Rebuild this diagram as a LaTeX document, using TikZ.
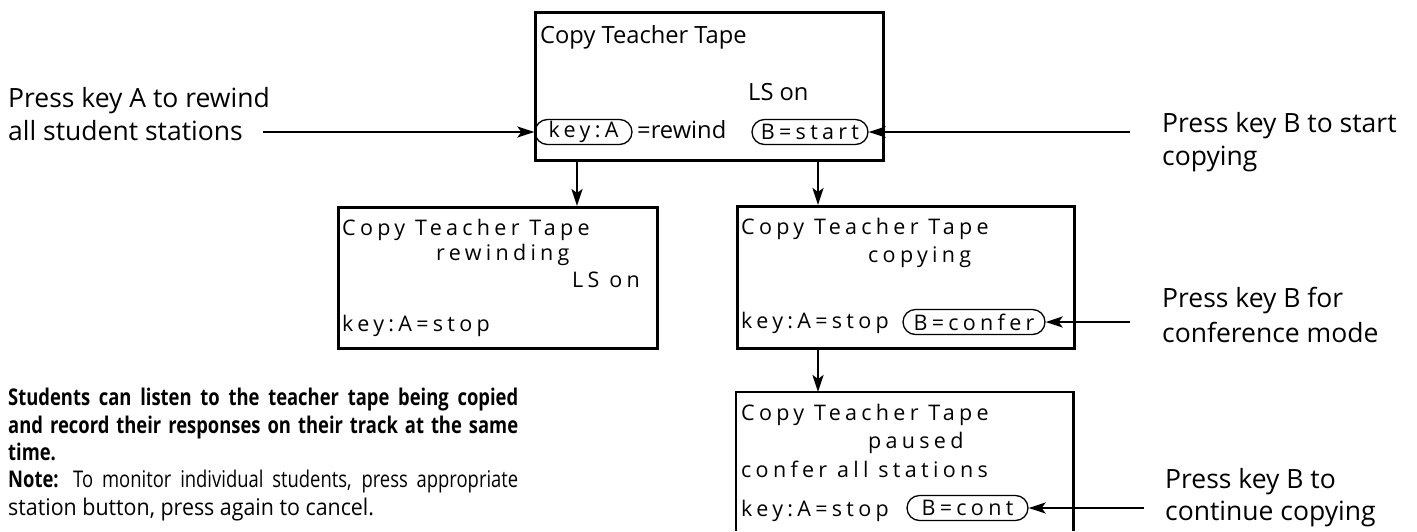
\documentclass[tikz,border=0pt]{standalone}
\usepackage{fontspec}
\setmainfont{Open Sans}
\newfontfamily\trk[LetterSpace=20]{Open Sans}
\newfontfamily\pf[FakeStretch=0.8]{Open Sans}
\newfontfamily\pg[FakeStretch=0.93]{Open Sans}
\usetikzlibrary{arrows.meta,shapes.misc}
\begin{document}
\begin{tikzpicture}[x=1pt,y=-1pt,
  box/.style={draw,line width=2.6pt,inner sep=0pt,anchor=north west},
  shell/.style={inner sep=0pt,anchor=north west},
  sides/.style={line width=2.6pt},
  txt/.style={anchor=base west,inner sep=0pt,font=\fontsize{21.5}{24}\trk},
  big/.style={anchor=base west,inner sep=0pt,font=\fontsize{23.7}{28}\selectfont},
  lab/.style={anchor=base west,inner sep=0pt,font=\fontsize{26.5}{33}\selectfont},
  para/.style={anchor=base west,inner sep=0pt,font=\fontsize{23}{27}\pf},
  pill/.style={draw,rounded rectangle,line width=1.3pt,inner xsep=0pt,inner ysep=0pt,minimum height=25pt,font=\fontsize{21.5}{24}\trk},
  arr/.style={line width=2.4pt,-{Stealth[length=17pt,width=11pt,inset=4pt]}}]
\path[use as bounding box,fill=white] (0,0) rectangle (1417,531);

% top box
\node[box,minimum width=348pt,minimum height=148pt] (top) at (534,11) {};
\node[big] (t1) at (540,43) {Copy Teacher Tape};
\node[big] (t2) at (748,100) {LS on};
\node[pill,minimum width=97pt] (keyA) at (583.5,132) {key:A};
\node[big] (t3) at (637,138) {=rewind};
\node[pill,minimum width=116pt] (bstart) at (810,132) {B=start};

% left box
\node[box,minimum width=319pt,minimum height=141pt] (rew) at (337,206) {};
\node[txt] (r1) at (342,235) {Copy Teacher Tape};
\node[txt] (r2) at (436,260) {rewinding};
\node[txt] (r3) at (572,287) {LS on};
\node[txt] (r4) at (342,331) {key:A=stop};

% copying box
\node[box,minimum width=337pt,minimum height=142pt] (cop) at (736,205) {};
\node[txt] (c1) at (741,234) {Copy Teacher Tape};
\node[txt] (c2) at (868,262) {copying};
\node[txt] (c3) at (741,328) {key:A=stop};
\node[pill,minimum width=142pt] (bconf) at (974,322) {B=confer};

% paused box (cut by the lower edge)
\node[shell,minimum width=337pt,minimum height=139pt] (pau) at (736,392) {};
\draw[sides] (pau.south west) -- (pau.north west) -- (pau.north east) -- (pau.south east);
\node[txt] (p1) at (741,420) {Copy Teacher Tape};
\node[txt] (p2) at (868,448) {paused};
\node[txt] (p3) at (741,477) {confer all stations};
\node[txt] (p4) at (741,516) {key:A=stop};
\node[pill,minimum width=121pt] (bcont) at (967.5,508) {B=cont};

% side labels
\node[lab] (la1) at (8,107) {Press key A to rewind};
\node[lab] (la2) at (8,140) {all student stations};
\node[lab] (lb1) at (1162,132) {Press key B to start};
\node[lab] (lb2) at (1162,165) {copying};
\node[lab] (lc1) at (1162,307) {Press key B for};
\node[lab] (lc2) at (1162,342) {conference mode};
\node[lab] (ld1) at (1165,488) {Press key B to};
\node[lab] (ld2) at (1165,520) {continue copying};

% paragraph
\node[para] (n1) at (8,405) {\makebox[510pt][s]{\bfseries Students can listen to the teacher tape being copied}};
\node[para] (n2) at (8,433) {\makebox[510pt][s]{\bfseries and record their responses on their track at the same}};
\node[para] (n3) at (8,460) {\bfseries time.};
\node[para] (n4) at (8,487) {\makebox[510pt][s]{{\bfseries Note:} To monitor individual students, press appropriate}};
\node[para] (n5) at (8,515) {\pg station button, press again to cancel.};

% connectors
\coordinate (ca) at (263,132);
\coordinate (cb) at (1130,132);
\coordinate (cc) at (1130,322);
\coordinate (cd) at (1144,508);
\coordinate (x1) at (577,0);
\coordinate (x2) at (818,0);
\draw[arr] (ca) -- (keyA.west);
\draw[arr] (cb) -- (bstart.east);
\draw[arr] (cc) -- (bconf.east);
\draw[arr] (cd) -- (bcont.east);
\draw[arr] (top.south -| x1) -- (rew.north -| x1);
\draw[arr] (top.south -| x2) -- (cop.north -| x2);
\draw[arr] (cop.south -| x2) -- (pau.north -| x2);
\end{tikzpicture}
\end{document}
